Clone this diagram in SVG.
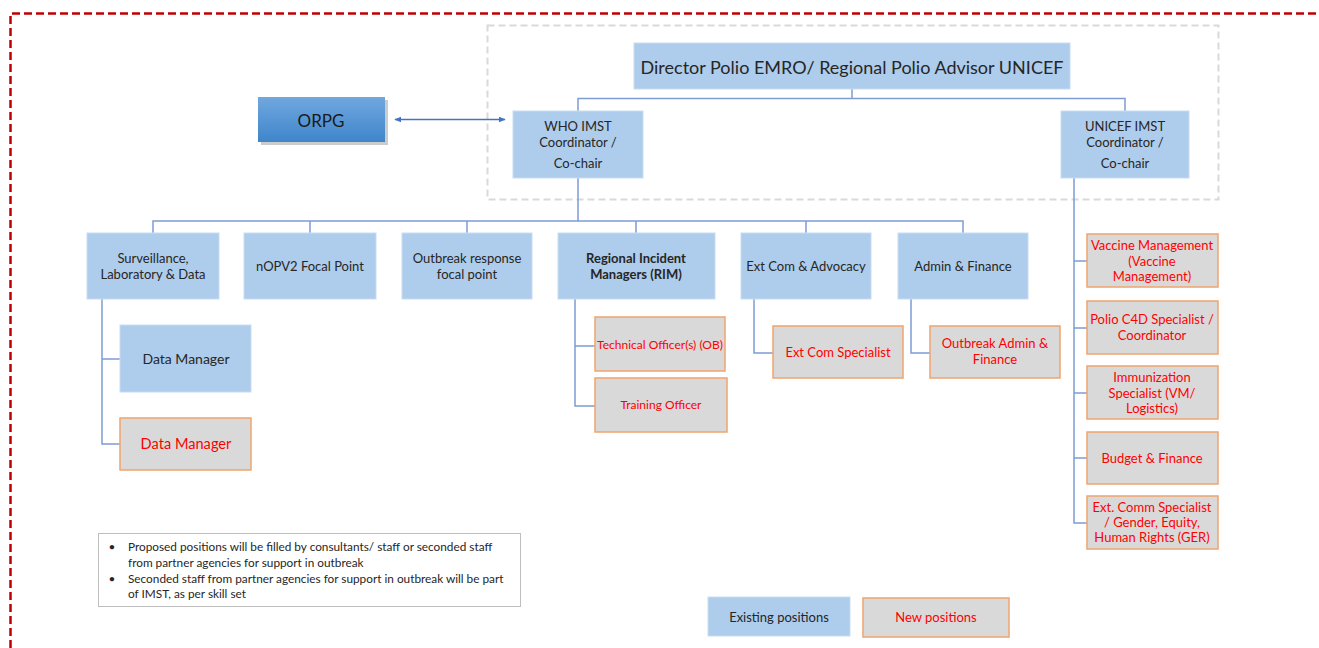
<svg xmlns="http://www.w3.org/2000/svg" width="1319" height="648" viewBox="0 0 1319 648">
<defs>
<linearGradient id="gOrpg" x1="0" y1="0" x2="0" y2="1">
<stop offset="0" stop-color="#70A8DF"/>
<stop offset="1" stop-color="#3F85CB"/>
</linearGradient>
<marker id="ah" viewBox="0 0 10 10" refX="9" refY="5" markerWidth="7" markerHeight="7" orient="auto-start-reverse" markerUnits="userSpaceOnUse">
<path d="M0,1 L10,5 L0,9 z" fill="#4472C4"/>
</marker>
<style>
text{font-family:Lato,"Liberation Sans",sans-serif;text-anchor:middle;dominant-baseline:central}
.ex{fill:#AECCEB;stroke:#C9DDF1;stroke-width:1}
.nw{fill:#D9D9D9;stroke:#F0A46E;stroke-width:1.5}
.t{fill:#262626;font-size:13px}
.r{fill:#FF0000;font-size:13px}
.c{fill:none;stroke:#7E9DD3;stroke-width:1.5}
</style>
</defs>
<rect width="1319" height="648" fill="#FFFFFF"/>
<path d="M10.5,648 V13.5 H1319" fill="none" stroke="#C00000" stroke-width="2.5" stroke-dasharray="8,4"/>
<rect x="487.5" y="25.5" width="731" height="174" fill="none" stroke="#D9D9D9" stroke-width="2" stroke-dasharray="7,4"/>

<g id="connectors">
<path class="c" d="M852,89 V98.5 M578,111 V98.5 H1125 V111"/>
<path class="c" d="M578,178 V221 M153,233 V221 H963 V233 M310,221 V233 M467,221 V233 M636,221 V233 M806,221 V233"/>
<path class="c" d="M102,299 V444 H120 M102,359 H120"/>
<path class="c" d="M575,299 V406 H595 M575,346 H595"/>
<path class="c" d="M754,299 V353 H773"/>
<path class="c" d="M911,299 V353 H930"/>
<path class="c" d="M1074,178 V523 H1087 M1074,261 H1087 M1074,328 H1087 M1074,393 H1087 M1074,458 H1087"/>
<line x1="395" y1="119.5" x2="505" y2="119.5" stroke="#4472C4" stroke-width="1.3" marker-start="url(#ah)" marker-end="url(#ah)"/>
</g>

<g id="director"><rect class="ex" x="634" y="43" width="436" height="46"/><text class="t" x="852" y="67" style="font-size:18px">Director Polio EMRO/ Regional Polio Advisor UNICEF</text></g>
<g id="orpg"><rect x="261" y="100" width="127" height="45" fill="#9A9A9A" opacity="0.5"/><rect x="258" y="97" width="127" height="45" fill="url(#gOrpg)"/><text x="321" y="120" style="font-size:17px;fill:#1A1A1A">ORPG</text></g>
<g id="who-imst"><rect class="ex" x="513" y="111" width="130" height="67"/><text class="t" x="578" y="126">WHO IMST</text><text class="t" x="578" y="142">Coordinator /</text><text class="t" x="578" y="163">Co-chair</text></g>
<g id="unicef-imst"><rect class="ex" x="1061" y="111" width="128" height="67"/><text class="t" x="1125" y="126">UNICEF IMST</text><text class="t" x="1125" y="142">Coordinator /</text><text class="t" x="1125" y="163">Co-chair</text></g>

<g id="surveillance"><rect class="ex" x="87" y="233" width="132" height="66"/><text class="t" x="153" y="258">Surveillance,</text><text class="t" x="153" y="274">Laboratory &amp; Data</text></g>
<g id="nopv2"><rect class="ex" x="244" y="233" width="132" height="66"/><text class="t" x="310" y="266">nOPV2 Focal Point</text></g>
<g id="outbreak-response"><rect class="ex" x="402" y="233" width="130" height="66"/><text class="t" x="467" y="258">Outbreak response</text><text class="t" x="467" y="274">focal point</text></g>
<g id="rim"><rect class="ex" x="558" y="233" width="157" height="66"/><text class="t" x="636" y="258" font-weight="bold">Regional Incident</text><text class="t" x="636" y="274" font-weight="bold">Managers (RIM)</text></g>
<g id="extcom"><rect class="ex" x="741" y="233" width="130" height="66"/><text class="t" x="806" y="266">Ext Com &amp; Advocacy</text></g>
<g id="admin"><rect class="ex" x="898" y="233" width="130" height="66"/><text class="t" x="963" y="266">Admin &amp; Finance</text></g>

<g id="data-manager-1"><rect class="ex" x="120" y="325" width="131" height="67"/><text class="t" x="186" y="358" style="font-size:14px">Data Manager</text></g>
<g id="data-manager-2"><rect class="nw" x="120" y="418" width="131" height="52"/><text class="r" x="186" y="443" style="font-size:14.6px">Data Manager</text></g>
<g id="technical-officer"><rect class="nw" x="595" y="317" width="130" height="54"/><text class="r" x="660" y="344" style="font-size:12px">Technical Officer(s) (OB)</text></g>
<g id="training-officer"><rect class="nw" x="595" y="378" width="132" height="54"/><text class="r" x="661" y="404" style="font-size:12px">Training Officer</text></g>
<g id="extcom-specialist"><rect class="nw" x="773" y="326" width="130" height="52"/><text class="r" x="838" y="352">Ext Com Specialist</text></g>
<g id="outbreak-admin"><rect class="nw" x="930" y="326" width="130" height="52"/><text class="r" x="995" y="343">Outbreak Admin  &amp;</text><text class="r" x="995" y="359">Finance</text></g>

<g id="vaccine-mgmt"><rect class="nw" x="1087" y="234" width="131" height="53"/><text class="r" x="1152" y="245">Vaccine Management</text><text class="r" x="1152" y="261">(Vaccine</text><text class="r" x="1152" y="276">Management)</text></g>
<g id="c4d"><rect class="nw" x="1087" y="301" width="131" height="53"/><text class="r" x="1152" y="319">Polio C4D Specialist /</text><text class="r" x="1152" y="335">Coordinator</text></g>
<g id="immunization"><rect class="nw" x="1087" y="366" width="131" height="53"/><text class="r" x="1152" y="377">Immunization</text><text class="r" x="1152" y="393">Specialist (VM/</text><text class="r" x="1152" y="408">Logistics)</text></g>
<g id="budget"><rect class="nw" x="1087" y="432" width="131" height="52"/><text class="r" x="1152" y="458">Budget &amp; Finance</text></g>
<g id="ext-comm-ger"><rect class="nw" x="1087" y="496" width="131" height="53"/><text class="r" x="1152" y="507">Ext. Comm Specialist</text><text class="r" x="1152" y="522">/ Gender, Equity,</text><text class="r" x="1152" y="537">Human Rights (GER)</text></g>

<g id="notes">
<rect x="98.5" y="533.5" width="422" height="73" fill="#FFFFFF" stroke="#BFBFBF" stroke-width="1"/>
<g style="font-size:11.8px;fill:#262626">
<text x="112" y="546">•</text><text x="128" y="546" style="text-anchor:start">Proposed positions will be filled by consultants/ staff or seconded staff</text>
<text x="128" y="562" style="text-anchor:start">from partner agencies for support in outbreak</text>
<text x="112" y="578">•</text><text x="128" y="578" style="text-anchor:start">Seconded staff from partner agencies for support in outbreak will be part</text>
<text x="128" y="593" style="text-anchor:start">of IMST, as per skill set</text>
</g>
</g>

<g id="legend-existing"><rect class="ex" x="708" y="597" width="142" height="39"/><text class="t" x="779" y="617">Existing positions</text></g>
<g id="legend-new"><rect class="nw" x="863" y="598" width="146" height="39"/><text class="r" x="936" y="617">New positions</text></g>
</svg>
